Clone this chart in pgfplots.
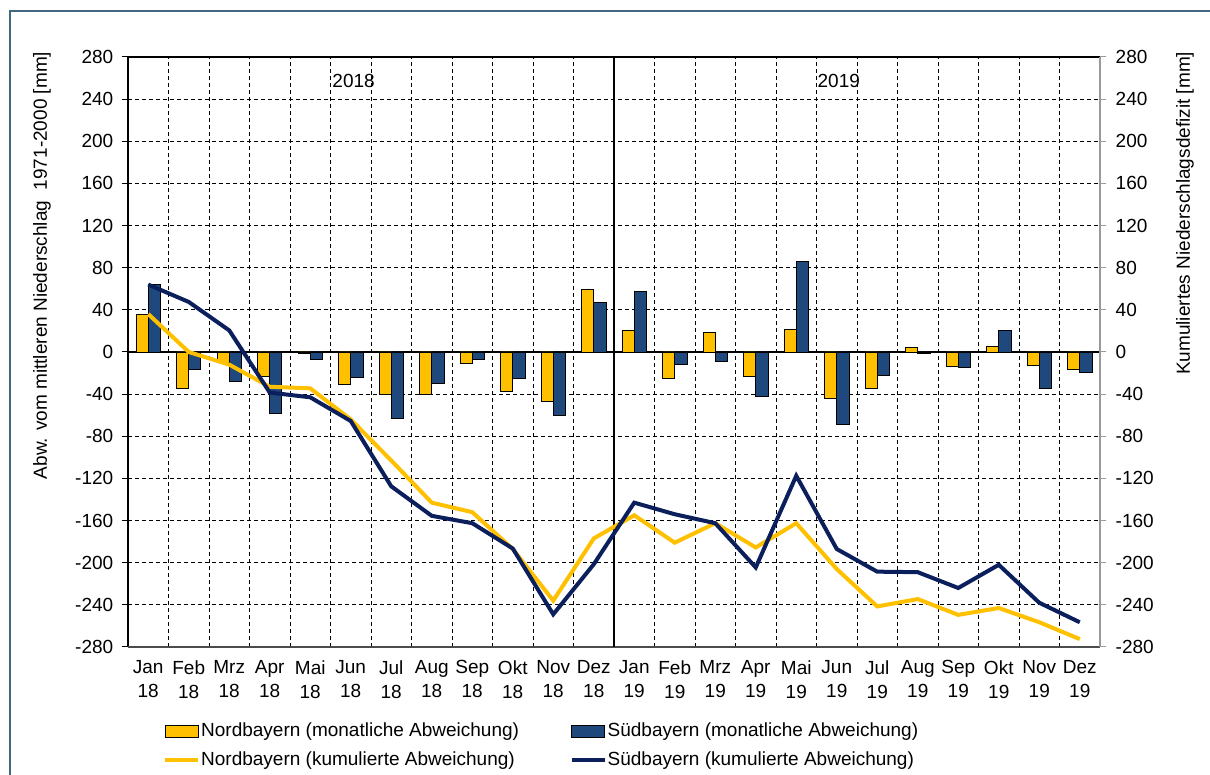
\documentclass[border=0pt]{standalone}
\usepackage{fontspec}
\setmainfont{Liberation Sans}
\usepackage{pgfplots}
\usepackage{pgfplotstable}
\pgfplotsset{compat=1.18}

\definecolor{nbgelb}{HTML}{FFC000}
\definecolor{sbblau}{HTML}{1F497D}
\definecolor{sbdunkel}{HTML}{0B1F5C}
\definecolor{rahmen}{HTML}{41687F}

% Monatliche und kumulierte Abweichung [mm], 0 = Jan 18 ... 23 = Dez 19
\pgfplotstableread{
x  nmon   smon   ncum    scum
0  36     64     36      64
1  -35    -16.5  0       47.5
2  -10    -28    -12     20.5
3  -23.5  -58    -33     -38.5
4  -1.5   -7.5   -34.5   -43
5  -30.5  -24    -64     -65.5
6  -40    -63    -103    -127.5
7  -40    -29.5  -143    -155.5
8  -10.5  -7.5   -152    -162.5
9  -37    -25    -187    -186.5
10 -47    -60    -236    -249
11 59.5   47     -177    -201.5
12 20.5   57.5   -155    -143
13 -25.5  -12    -181    -154
14 18.5   -8.5   -162.5  -162.5
15 -23.5  -42.5  -185.5  -204.5
16 21.5   86     -162.5  -117.5
17 -44    -69    -206    -187
18 -34.5  -22    -241.5  -208.5
19 4      -1.5   -234.5  -209
20 -14    -15    -249.5  -224
21 5.5    20.5   -243    -202
22 -12.5  -34.5  -256.5  -238
23 -16.5  -19.5  -272.5  -256.5
}\daten

\pgfplotsset{
  gitter/.style={black, line width=0.4pt, dash pattern=on 2pt off 1.5pt},
  balkenlegende/.style={legend image code/.code={\draw[##1] (0pt,-3pt) rectangle (16.5pt,3pt);}},
  linienlegende/.style={legend image code/.code={\draw[##1] (0pt,0pt) -- (16.5pt,0pt);}},
}

\begin{document}
\fontsize{9.5}{11.4}\selectfont
\begin{tikzpicture}
\useasboundingbox (-64pt,-64pt) rectangle (541pt,323.5pt);
\draw[rahmen, line width=1.2pt] (-59pt,-90pt) rectangle (570pt,318pt);

\begin{axis}[
  at={(0,0)}, anchor=south west,
  scale only axis, width=486pt, height=295pt,
  xmin=-0.5, xmax=23.5, ymin=-280, ymax=280,
  ytick={-280,-240,...,280},
  xtick={0,...,23},
  xticklabels={Jan\\18,Feb\\18,Mrz\\18,Apr\\18,Mai\\18,Jun\\18,Jul\\18,Aug\\18,Sep\\18,Okt\\18,Nov\\18,Dez\\18,
               Jan\\19,Feb\\19,Mrz\\19,Apr\\19,Mai\\19,Jun\\19,Jul\\19,Aug\\19,Sep\\19,Okt\\19,Nov\\19,Dez\\19},
  xticklabel style={align=center, font=\fontsize{9.5}{11.8}\selectfont, yshift=-0.5pt,
    execute at begin node=\strut},
  yticklabel style={xshift=-1pt},
  minor xtick={0.5,1.5,...,22.5},
  xminorgrids, ymajorgrids,
  grid style={gitter}, minor grid style={gitter},
  x tick style={draw=none}, minor tick length=0pt,
  ytick pos=left, tick align=outside, major tick length=3pt,
  y tick style={black, line width=0.5pt},
  axis line style={draw=none},
  /pgf/number format/assume math mode=true,
  clip=false,
  legend columns=2,
  legend cell align=left,
  legend style={at={(0.036,-0.127)}, anchor=north west, draw=none, fill=none,
    inner sep=0pt, row sep=5pt,
    nodes={inner sep=0.4pt},
    /tikz/every even column/.append style={column sep=25pt}},
]
\draw[black, line width=0.6pt] (rel axis cs:0,0) -- (rel axis cs:0,1) -- (rel axis cs:1,1);
\draw[black!70, line width=0.6pt] (rel axis cs:0,0) -- (rel axis cs:1,0);
\draw[black, line width=0.6pt] (axis cs:-0.5,0) -- (axis cs:23.5,0);
\draw[black, line width=1pt] (axis cs:11.5,-280) -- (axis cs:11.5,280);

\addplot[ybar, bar width=0.3, bar shift=-0.15, fill=nbgelb, draw=black, line width=0.4pt, balkenlegende]
  table[x=x, y=nmon] {\daten};
\addlegendentry{Nordbayern (monatliche Abweichung)}
\addplot[ybar, bar width=0.3, bar shift=0.15, fill=sbblau, draw=black, line width=0.4pt, balkenlegende]
  table[x=x, y=smon] {\daten};
\addlegendentry{Südbayern (monatliche Abweichung)}
\addplot[nbgelb, line width=2pt, mark=none, linienlegende]
  table[x=x, y=ncum] {\daten};
\addlegendentry{Nordbayern (kumulierte Abweichung)}
\addplot[sbdunkel, line width=2pt, mark=none, linienlegende]
  table[x=x, y=scum] {\daten};
\addlegendentry{Südbayern (kumulierte Abweichung)}

\node at (axis cs:5.07,257) {2018};
\node at (axis cs:17.05,257) {2019};
\node[rotate=90, anchor=east] at (rel axis cs:-0.0885,1.0203) {Abw. vom mittleren Niederschlag\ \ 1971-2000 [mm]};
\node[rotate=90, anchor=east] at (rel axis cs:1.0874,1.0203) {Kumuliertes Niederschlagsdefizit [mm]};
\end{axis}

\begin{axis}[
  at={(0,0)}, anchor=south west,
  scale only axis, width=486pt, height=295pt,
  xmin=-0.5, xmax=23.5, ymin=-280, ymax=280,
  hide x axis,
  axis y line*=right,
  ytick={-280,-240,...,280},
  yticklabel style={xshift=1.5pt},
  tick align=outside, major tick length=3pt,
  y tick style={black!40, line width=0.5pt},
  y axis line style={black!40, line width=0.6pt},
  /pgf/number format/assume math mode=true,
]
\addplot[draw=none] coordinates {(0,0)};
\end{axis}
\end{tikzpicture}
\end{document}
